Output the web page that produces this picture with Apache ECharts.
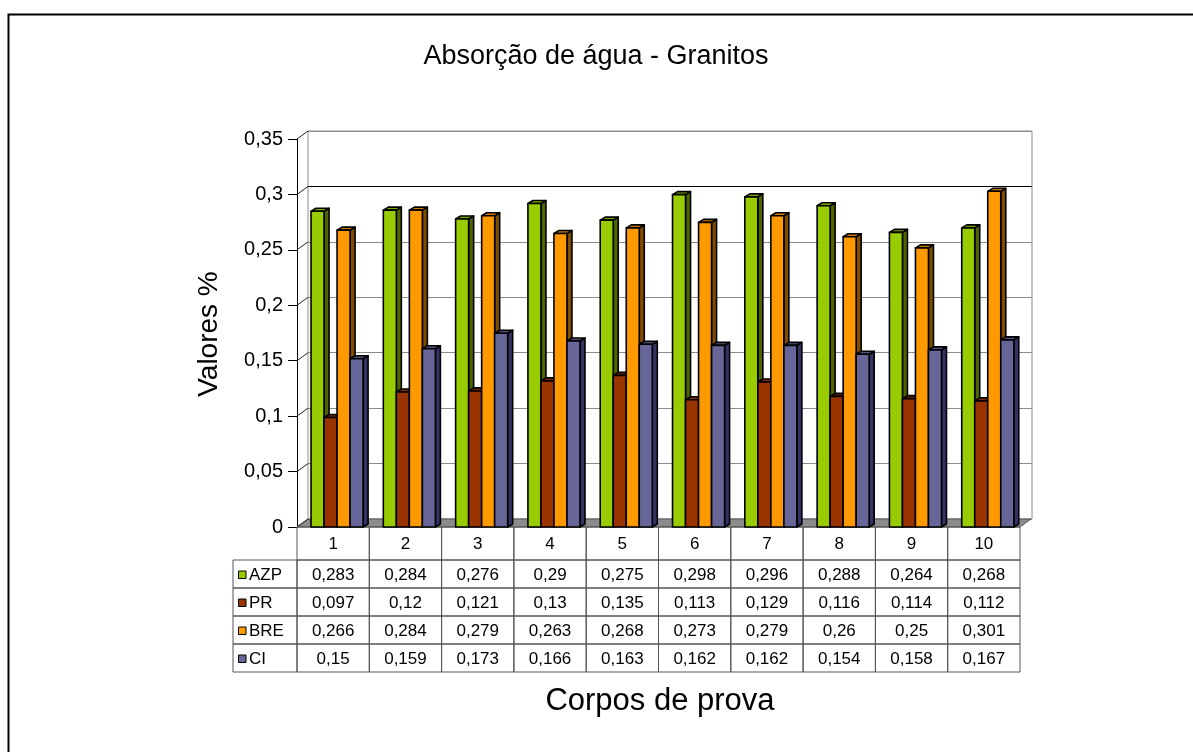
<!DOCTYPE html>
<html>
<head>
<meta charset="utf-8">
<script src="https://cdn.jsdelivr.net/npm/echarts@6/dist/echarts.min.js"></script>
<style>
  html, body { margin: 0; padding: 0; background: #fff; }
  #chart { width: 1193px; height: 752px; }
</style>
</head>
<body>
<div id="chart"></div>
<script>
// Corpos de prova (specimens) and the four granite series
const categories = ['1', '2', '3', '4', '5', '6', '7', '8', '9', '10'];
const seriesNames = ['AZP', 'PR', 'BRE', 'CI'];
const azp = [0.283, 0.284, 0.276, 0.29, 0.275, 0.298, 0.296, 0.288, 0.264, 0.268];
const pr  = [0.097, 0.12, 0.121, 0.13, 0.135, 0.113, 0.129, 0.116, 0.114, 0.112];
const bre = [0.266, 0.284, 0.279, 0.263, 0.268, 0.273, 0.279, 0.26, 0.25, 0.301];
const ci  = [0.15, 0.159, 0.173, 0.166, 0.163, 0.162, 0.162, 0.154, 0.158, 0.167];
const yTicks = [0, 0.05, 0.1, 0.15, 0.2, 0.25, 0.3, 0.35];

const seriesValues = [azp, pr, bre, ci];
const frontColors = ['#99CC00', '#993300', '#FF9900', '#666699'];
const sideColors  = ['#4D6600', '#4D1A00', '#804D00', '#333366'];
const topColors   = ['#7FA800', '#7A2900', '#CC7A00', '#52527A'];

const FONT = 'Liberation Sans';
const WALL_DX = 11, WALL_DY = -8;   // depth of the back wall / floor
const BAR_DX = 5, BAR_DY = -3;      // depth of each bar
const BAR_START = 0.194, BAR_W = 0.18;
const HEADER_H = 33, ROW_H = 28;

const fmt = v => String(+(+v).toFixed(3)).replace('.', ',');

const chart = echarts.init(document.getElementById('chart'), null, { renderer: 'canvas' });

// floor of the 3D box
function renderFloor(params, api) {
  const cs = params.coordSys;
  const y = api.coord([0, 0])[1];
  const x0 = cs.x, x1 = cs.x + cs.width;
  return {
    type: 'polygon',
    shape: { points: [[x0, y], [x1, y], [x1 + WALL_DX, y + WALL_DY], [x0 + WALL_DX, y + WALL_DY]] },
    style: { fill: '#8C8C8C', stroke: '#555', lineWidth: 1 }
  };
}

// diagonal grid lines on the side wall
function renderSideWall(params, api) {
  const cs = params.coordSys;
  const y = api.coord([0, api.value(0)])[1];
  return {
    type: 'line',
    shape: { x1: cs.x, y1: y, x2: cs.x + WALL_DX, y2: y + WALL_DY },
    style: { stroke: '#222', lineWidth: 1 }
  };
}

function makeBarRenderer(k) {
  return function (params, api) {
    const i = api.value(0);
    const v = api.value(1);
    const c = api.coord([i, v]);
    const base = api.coord([i, 0]);
    const band = api.size([1, 0])[0];
    const left = base[0] - band / 2 + band * (BAR_START + k * BAR_W);
    const w = band * BAR_W;
    const yTop = c[1] - 2;
    const yBot = base[1];
    const stroke = { stroke: '#000', lineWidth: 1.6, lineJoin: 'round' };
    return {
      type: 'group',
      children: [
        {
          type: 'polygon',
          shape: { points: [[left + w, yTop], [left + w + BAR_DX, yTop + BAR_DY], [left + w + BAR_DX, yBot + BAR_DY], [left + w, yBot]] },
          style: Object.assign({ fill: sideColors[k] }, stroke)
        },
        {
          type: 'polygon',
          shape: { points: [[left, yTop], [left + BAR_DX, yTop + BAR_DY], [left + w + BAR_DX, yTop + BAR_DY], [left + w, yTop]] },
          style: Object.assign({ fill: topColors[k] }, stroke)
        },
        {
          type: 'rect',
          shape: { x: left, y: yTop, width: w, height: yBot - yTop },
          style: Object.assign({ fill: frontColors[k] }, stroke)
        }
      ]
    };
  };
}

// data table under the plot, one column per specimen
function renderTable(params, api) {
  const i = api.value(0);
  const base = api.coord([i, 0]);
  const band = api.size([1, 0])[0];
  const cx = base[0];
  const x0 = cx - band / 2;
  const y0 = base[1];
  const lineStyle = { fill: 'none', stroke: '#555', lineWidth: 1 };
  const textStyle = (text, x, y, align) => ({
    text, x, y, align: align || 'center', verticalAlign: 'middle',
    fontSize: 17, fontFamily: FONT, fill: '#000'
  });
  const children = [];
  children.push({ type: 'rect', shape: { x: x0, y: y0, width: band, height: HEADER_H }, style: lineStyle });
  children.push({ type: 'text', style: textStyle(categories[i], cx, y0 + HEADER_H / 2 + 1) });
  for (let r = 0; r < seriesValues.length; r++) {
    const ry = y0 + HEADER_H + r * ROW_H;
    children.push({ type: 'rect', shape: { x: x0, y: ry, width: band, height: ROW_H }, style: lineStyle });
    children.push({ type: 'text', style: textStyle(fmt(seriesValues[r][i]), cx, ry + ROW_H / 2 + 1) });
  }
  if (i === 0) {
    const lx = x0 - 64;
    for (let r = 0; r < seriesNames.length; r++) {
      const ry = y0 + HEADER_H + r * ROW_H;
      children.push({ type: 'rect', shape: { x: lx, y: ry, width: 64, height: ROW_H }, style: lineStyle });
      children.push({
        type: 'rect',
        shape: { x: lx + 5.5, y: ry + ROW_H / 2 - 3, width: 7.5, height: 7.5 },
        style: { fill: frontColors[r], stroke: '#000', lineWidth: 1 }
      });
      children.push({ type: 'text', style: textStyle(seriesNames[r], lx + 16, ry + ROW_H / 2 + 1, 'left') });
    }
  }
  return { type: 'group', children };
}

const barSeries = seriesNames.map((name, k) => ({
  name,
  type: 'custom',
  xAxisIndex: 0,
  yAxisIndex: 0,
  z: 3,
  clip: false,
  silent: true,
  renderItem: makeBarRenderer(k),
  data: seriesValues[k].map((v, i) => [i, v])
}));

const option = {
  animation: false,
  backgroundColor: '#fff',
  grid: [
    { left: 297, top: 139, width: 723, height: 388, show: false },
    { left: 308, top: 131, width: 724, height: 388, show: true, borderColor: '#8C8C8C', borderWidth: 1, backgroundColor: 'transparent' }
  ],
  xAxis: [
    { type: 'category', gridIndex: 0, data: categories, boundaryGap: true, show: false },
    { type: 'category', gridIndex: 1, data: categories, boundaryGap: true, show: false }
  ],
  yAxis: [
    {
      type: 'value', gridIndex: 0, min: 0, max: 0.35, interval: 0.05,
      axisLine: { show: true, lineStyle: { color: '#000', width: 1 } },
      axisTick: { show: true, length: 9, lineStyle: { color: '#000', width: 1 } },
      axisLabel: { margin: 14, fontSize: 20, fontFamily: FONT, color: '#000', formatter: fmt },
      splitLine: { show: false }
    },
    {
      type: 'value', gridIndex: 1, min: 0, max: 0.35, interval: 0.05,
      axisLine: { show: false }, axisTick: { show: false }, axisLabel: { show: false },
      splitLine: { show: true, lineStyle: { width: 1, color: ['#8C8C8C', '#8C8C8C', '#8C8C8C', '#8C8C8C', '#8C8C8C', '#8C8C8C', '#000', '#8C8C8C'] } }
    }
  ],
  graphic: [
    { type: 'rect', silent: true, shape: { x: 8.5, y: 14.5, width: 1400, height: 900 }, style: { fill: 'none', stroke: '#000', lineWidth: 2 } },
    { type: 'text', silent: true, style: { text: 'Absorção de água - Granitos', x: 596, y: 57, align: 'center', verticalAlign: 'middle', fontSize: 27, fontFamily: FONT, fill: '#000' } },
    { type: 'text', silent: true, rotation: Math.PI / 2, x: 209, y: 334, style: { text: 'Valores %', x: 0, y: 0, align: 'center', verticalAlign: 'middle', fontSize: 28, fontFamily: FONT, fill: '#000' } },
    { type: 'text', silent: true, style: { text: 'Corpos de prova', x: 660, y: 701, align: 'center', verticalAlign: 'middle', fontSize: 31, fontFamily: FONT, fill: '#000' } }
  ],
  series: [
    { type: 'custom', xAxisIndex: 0, yAxisIndex: 0, z: 1, clip: false, silent: true, renderItem: renderFloor, data: [[0]] },
    { type: 'custom', xAxisIndex: 0, yAxisIndex: 0, z: 1, clip: false, silent: true, renderItem: renderSideWall, data: yTicks.map(v => [v]) },
    { type: 'custom', xAxisIndex: 0, yAxisIndex: 0, z: 2, clip: false, silent: true, renderItem: renderTable, data: categories.map((c, i) => [i]) }
  ].concat(barSeries)
};

chart.setOption(option);
</script>
</body>
</html>
